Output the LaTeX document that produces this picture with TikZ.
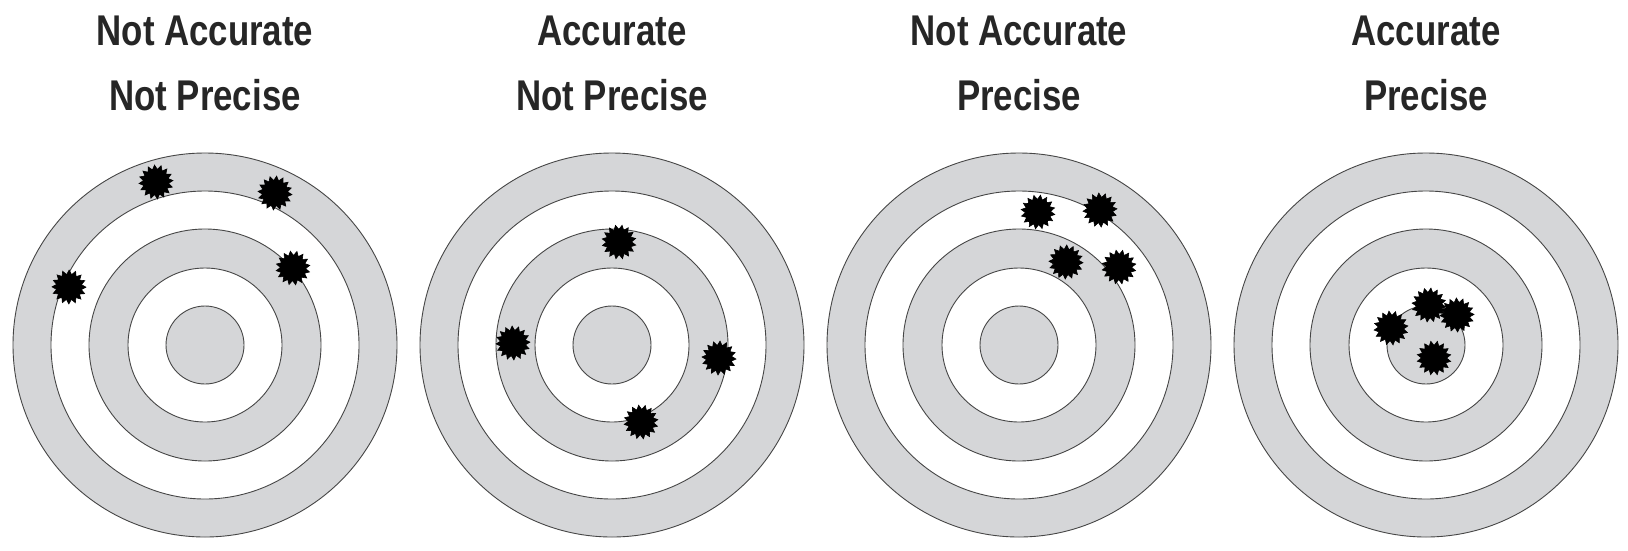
\documentclass[tikz,border=0pt]{standalone}
\usepackage{fontspec}
\setmainfont{Liberation Sans}
\usetikzlibrary{shapes.geometric}
\definecolor{ringgray}{RGB}{213,214,216}
\definecolor{edgegray}{RGB}{70,70,70}
\tikzset{
  ringedge/.style={draw=edgegray, line width=0.9pt},
  splat/.style={star, star points=16, star point ratio=1.35, fill=black, draw=black,
    line width=0.6pt, inner sep=0pt, minimum size=34pt},
  lab/.style={font=\bfseries\fontsize{43pt}{43pt}\selectfont, xscale=0.81, transform shape,
    anchor=base, inner sep=0pt, text=black!85},
  pics/target/.style={code={
    \filldraw[ringedge, fill=ringgray] (0,0) circle[radius=192pt];
    \filldraw[ringedge, fill=white] (0,0) circle[radius=154pt];
    \filldraw[ringedge, fill=ringgray] (0,0) circle[radius=116pt];
    \filldraw[ringedge, fill=white] (0,0) circle[radius=77pt];
    \filldraw[ringedge, fill=ringgray] (0,0) circle[radius=39pt];
  }}
}
\begin{document}
\begin{tikzpicture}[x=1pt, y=-1pt]
  \useasboundingbox[fill=white] (0,0) rectangle (1628,550);
  % targets
  \pic (tA) at (205,345) {target};
  \pic (tB) at (612,345) {target};
  \pic (tC) at (1019,345) {target};
  \pic (tD) at (1426,345) {target};
  % labels
  \node (la1) [lab] at (205,45) {Not Accurate};
  \node (la2) [lab] at (205,110) {Not Precise};
  \node (lb1) [lab] at (612,45) {Accurate};
  \node (lb2) [lab] at (612,110) {Not Precise};
  \node (lc1) [lab] at (1019,45) {Not Accurate};
  \node (lc2) [lab] at (1019,110) {Precise};
  \node (ld1) [lab] at (1426,45) {Accurate};
  \node (ld2) [lab] at (1426,110) {Precise};
  % splats target A
  \node (sa1) [splat, shape border rotate=5] at (156,182) {};
  \node (sa2) [splat, shape border rotate=17] at (275,193) {};
  \node (sa3) [splat, shape border rotate=9] at (293,268) {};
  \node (sa4) [splat, shape border rotate=22] at (69,287) {};
  % splats target B
  \node (sb1) [splat, shape border rotate=12] at (619,242) {};
  \node (sb2) [splat, shape border rotate=3] at (513,343) {};
  \node (sb3) [splat, shape border rotate=19] at (719,358) {};
  \node (sb4) [splat, shape border rotate=8] at (641,422) {};
  % splats target C
  \node (sc1) [splat, shape border rotate=14] at (1038,212) {};
  \node (sc2) [splat, shape border rotate=4] at (1100,210) {};
  \node (sc3) [splat, shape border rotate=20] at (1066,262) {};
  \node (sc4) [splat, shape border rotate=10] at (1119,267) {};
  % splats target D
  \node (sd1) [splat, shape border rotate=7] at (1391,328) {};
  \node (sd2) [splat, shape border rotate=16] at (1429,305) {};
  \node (sd3) [splat, shape border rotate=2] at (1457,315) {};
  \node (sd4) [splat, shape border rotate=11] at (1434,358) {};
\end{tikzpicture}
\end{document}
